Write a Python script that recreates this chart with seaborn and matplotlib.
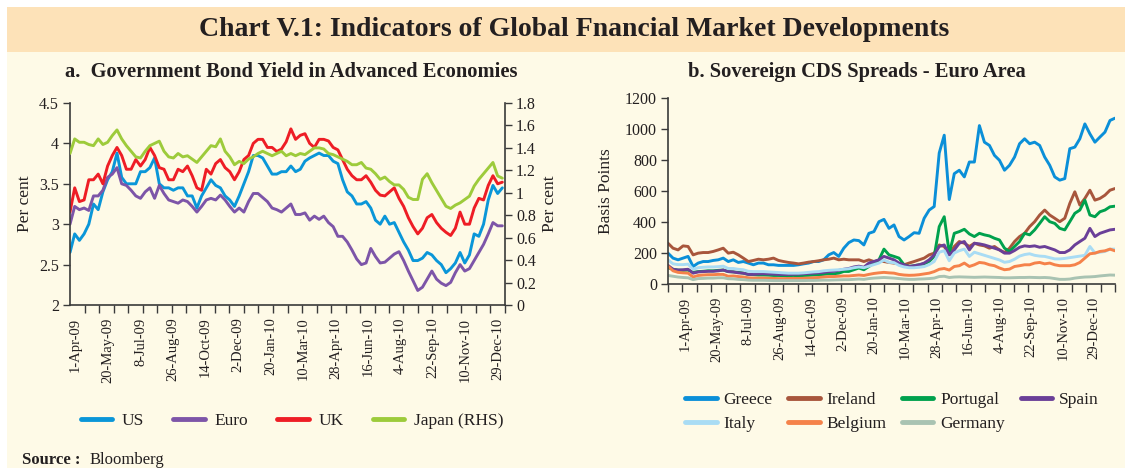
import numpy as np
import pandas as pd
import matplotlib
matplotlib.use("Agg")
import matplotlib.pyplot as plt
import matplotlib.dates as mdates
import matplotlib.transforms as mtransforms
from matplotlib.patches import Rectangle
from matplotlib.lines import Line2D
import seaborn as sns

# ------------------------------------------------------------------ data
# Panel a: government bond yields (weekly readings)
left_start, left_end = "2009-04-01", "2011-01-13"
us = [2.65, 2.88, 2.80, 2.88, 3.00, 3.25, 3.18, 3.40, 3.55, 3.65,
      3.88, 3.58, 3.50, 3.50, 3.50, 3.65, 3.65, 3.70, 3.82, 3.50,
      3.45, 3.45, 3.42, 3.45, 3.45, 3.35, 3.35, 3.20, 3.35, 3.45,
      3.55, 3.48, 3.45, 3.35, 3.30, 3.22, 3.35, 3.50, 3.65, 3.85,
      3.85, 3.82, 3.72, 3.62, 3.62, 3.65, 3.65, 3.72, 3.65, 3.68,
      3.78, 3.82, 3.85, 3.88, 3.85, 3.85, 3.78, 3.75, 3.55, 3.40,
      3.35, 3.25, 3.25, 3.28, 3.20, 3.05, 3.00, 3.10, 3.00, 3.02,
      2.90, 2.78, 2.68, 2.55, 2.55, 2.58, 2.65, 2.62, 2.55, 2.50,
      2.40, 2.45, 2.52, 2.65, 2.52, 2.62, 2.88, 2.85, 3.00, 3.30,
      3.48, 3.38, 3.45]
euro = [3.00, 3.22, 3.18, 3.20, 3.17, 3.35, 3.35, 3.42, 3.58, 3.62,
        3.70, 3.50, 3.48, 3.42, 3.35, 3.32, 3.40, 3.45, 3.32, 3.48,
        3.38, 3.30, 3.28, 3.26, 3.30, 3.28, 3.22, 3.15, 3.22, 3.30,
        3.32, 3.30, 3.36, 3.30, 3.22, 3.15, 3.20, 3.15, 3.28, 3.38,
        3.38, 3.33, 3.28, 3.20, 3.18, 3.15, 3.20, 3.25, 3.12, 3.12,
        3.14, 3.05, 3.10, 3.06, 3.10, 3.02, 2.97, 2.85, 2.85, 2.78,
        2.68, 2.57, 2.50, 2.52, 2.70, 2.60, 2.52, 2.53, 2.58, 2.63,
        2.66, 2.55, 2.42, 2.30, 2.18, 2.22, 2.32, 2.42, 2.32, 2.27,
        2.24, 2.28, 2.40, 2.50, 2.42, 2.45, 2.55, 2.65, 2.75, 2.88,
        3.02, 2.98, 2.98]
uk = [3.15, 3.45, 3.28, 3.30, 3.55, 3.55, 3.62, 3.50, 3.72, 3.85,
      3.95, 3.85, 3.68, 3.68, 3.80, 3.72, 3.80, 3.95, 3.85, 3.70,
      3.68, 3.55, 3.55, 3.68, 3.65, 3.72, 3.60, 3.45, 3.42, 3.68,
      3.62, 3.75, 3.80, 3.70, 3.65, 3.55, 3.65, 3.80, 3.85, 4.00,
      4.05, 4.05, 3.95, 3.95, 3.90, 3.93, 4.02, 4.18, 4.05, 4.10,
      4.12, 4.00, 3.95, 4.05, 4.05, 4.03, 3.95, 3.92, 3.80, 3.68,
      3.60, 3.55, 3.55, 3.60, 3.52, 3.42, 3.36, 3.35, 3.40, 3.45,
      3.32, 3.22, 3.08, 2.97, 2.88, 2.95, 3.08, 3.12, 3.02, 2.95,
      2.90, 2.86, 2.95, 3.15, 3.00, 3.00, 3.20, 3.32, 3.30, 3.48,
      3.60, 3.50, 3.52]
japan_rhs = [1.35, 1.48, 1.45, 1.45, 1.43, 1.42, 1.48, 1.43, 1.45, 1.51,
             1.56, 1.48, 1.42, 1.37, 1.32, 1.31, 1.37, 1.42, 1.44, 1.46,
             1.37, 1.32, 1.31, 1.35, 1.32, 1.33, 1.30, 1.27, 1.32, 1.37,
             1.42, 1.41, 1.48, 1.37, 1.32, 1.25, 1.28, 1.26, 1.30, 1.32,
             1.35, 1.37, 1.35, 1.33, 1.35, 1.37, 1.33, 1.35, 1.33, 1.35,
             1.34, 1.37, 1.40, 1.40, 1.39, 1.35, 1.34, 1.32, 1.30, 1.28,
             1.25, 1.25, 1.27, 1.22, 1.21, 1.17, 1.12, 1.14, 1.10, 1.07,
             1.07, 1.03, 0.96, 0.94, 0.94, 1.12, 1.17, 1.09, 1.02, 0.95,
             0.88, 0.86, 0.89, 0.91, 0.94, 0.97, 1.06, 1.12, 1.17, 1.22,
             1.27, 1.15, 1.13]

# Panel b: sovereign CDS spreads (basis points)
right_start, right_end = "2009-03-14", "2011-02-08"
greece = [199, 167, 156, 167, 178, 113, 135, 145, 145, 152,
          156, 167, 145, 156, 139, 145, 135, 124, 135, 135,
          124, 124, 120, 120, 120, 120, 124, 130, 135, 145,
          145, 156, 188, 203, 178, 231, 267, 284, 280, 252,
          327, 338, 402, 417, 359, 381, 306, 284, 306, 331,
          327, 424, 477, 500, 845, 960, 545, 712, 734, 691,
          787, 787, 1022, 915, 894, 830, 798, 734, 766, 819,
          905, 937, 905, 915, 894, 819, 766, 691, 670, 680,
          873, 883, 937, 1033, 969, 915, 948, 980, 1055, 1070]
ireland = [263, 231, 220, 246, 242, 188, 199, 203, 203, 210,
           220, 231, 199, 205, 188, 167, 145, 152, 160, 156,
           160, 167, 152, 145, 139, 135, 130, 135, 141, 145,
           150, 156, 160, 167, 156, 160, 156, 156, 156, 145,
           156, 145, 152, 145, 139, 135, 130, 124, 135, 145,
           156, 167, 188, 199, 252, 242, 190, 242, 274, 263,
           242, 263, 252, 246, 231, 242, 220, 203, 231, 274,
           306, 327, 370, 402, 445, 477, 445, 424, 402, 424,
           520, 595, 509, 552, 605, 541, 552, 573, 605, 616]
portugal = [105, 95, 90, 88, 90, 75, 80, 82, 85, 85,
            88, 90, 80, 78, 75, 70, 62, 60, 58, 58,
            57, 55, 55, 54, 54, 55, 53, 55, 56, 58,
            60, 62, 66, 66, 70, 81, 81, 92, 103, 92,
            113, 135, 156, 225, 188, 178, 167, 124, 113, 118,
            124, 130, 145, 178, 370, 434, 199, 327, 338, 353,
            323, 306, 327, 317, 310, 295, 284, 231, 210, 242,
            274, 327, 317, 349, 391, 434, 402, 391, 359, 349,
            402, 456, 477, 541, 445, 434, 466, 477, 498, 502]
spain = [120, 95, 90, 92, 95, 70, 78, 80, 82, 82,
         85, 90, 80, 78, 72, 70, 62, 62, 65, 66,
         65, 64, 62, 62, 62, 63, 64, 66, 68, 70,
         72, 75, 80, 82, 88, 95, 100, 110, 115, 108,
         135, 145, 156, 178, 167, 156, 135, 124, 113, 118,
         124, 135, 156, 188, 242, 252, 188, 220, 263, 274,
         220, 263, 259, 252, 242, 231, 220, 199, 199, 216,
         237, 246, 242, 246, 237, 242, 231, 220, 203, 203,
         220, 252, 274, 295, 359, 306, 327, 338, 349, 353]
italy = [155, 130, 125, 125, 128, 95, 105, 108, 110, 110,
         112, 115, 100, 100, 95, 92, 82, 80, 80, 80,
         78, 76, 74, 72, 70, 70, 70, 72, 75, 78,
         80, 85, 88, 90, 92, 95, 98, 105, 110, 105,
         115, 125, 135, 155, 140, 138, 120, 110, 105, 105,
         108, 112, 125, 145, 205, 215, 150, 200, 215, 225,
         178, 205, 195, 185, 175, 165, 155, 140, 145, 160,
         180, 190, 195, 185, 180, 178, 170, 162, 162, 165,
         170, 175, 180, 185, 242, 200, 205, 210, 225, 225]
belgium = [115, 85, 75, 72, 70, 45, 55, 58, 60, 60,
           62, 62, 50, 52, 48, 45, 40, 38, 38, 38,
           37, 36, 35, 35, 36, 36, 36, 37, 38, 40,
           42, 45, 48, 48, 50, 52, 52, 55, 58, 55,
           62, 68, 72, 75, 72, 70, 62, 58, 56, 57,
           60, 65, 70, 80, 95, 100, 90, 113, 118, 135,
           113, 124, 139, 135, 124, 118, 103, 92, 96, 113,
           118, 124, 124, 135, 139, 130, 135, 124, 118, 118,
           118, 124, 139, 167, 195, 199, 210, 214, 225, 214]
germany = [55, 50, 45, 42, 40, 28, 35, 36, 38, 38,
           40, 40, 34, 33, 30, 28, 25, 24, 24, 24,
           23, 22, 22, 22, 22, 22, 22, 22, 23, 23,
           24, 25, 25, 26, 27, 28, 28, 30, 32, 30,
           35, 38, 40, 42, 40, 38, 35, 32, 30, 30,
           32, 33, 35, 38, 48, 50, 42, 45, 46, 45,
           44, 43, 44, 45, 44, 43, 42, 40, 40, 41,
           42, 42, 43, 42, 41, 42, 40, 35, 30, 30,
           32, 38, 42, 45, 46, 48, 52, 55, 58, 57]

x_tick_labels = ["1-Apr-09", "20-May-09", "8-Jul-09", "26-Aug-09", "14-Oct-09",
                 "2-Dec-09", "20-Jan-10", "10-Mar-10", "28-Apr-10", "16-Jun-10",
                 "4-Aug-10", "22-Sep-10", "10-Nov-10", "29-Dec-10"]
left_yticks = [2, 2.5, 3, 3.5, 4, 4.5]
left_ytick_labels = ["2", "2.5", "3", "3.5", "4", "4.5"]
rhs_yticks = [0, 0.2, 0.4, 0.6, 0.8, 1.0, 1.2, 1.4, 1.6, 1.8]
rhs_ytick_labels = ["0", "0.2", "0.4", "0.6", "0.8", "1", "1.2", "1.4", "1.6", "1.8"]
cds_yticks = [0, 200, 400, 600, 800, 1000, 1200]

# ------------------------------------------------------------------ style
sns.set_theme(style="ticks")
plt.rcParams["font.family"] = ["Liberation Serif", "DejaVu Serif"]
TXT = "#231f20"
AXC = "#3a3a3a"
CREAM = "#fefae7"
PEACH = "#fde2b8"

left_pal = {"US": "#0a96d8", "Euro": "#7d55a8", "UK": "#ee1d25", "Japan (RHS)": "#9dcb3b"}
right_pal = {"Greece": "#0b8fd8", "Ireland": "#a8563c", "Portugal": "#00a14d",
             "Spain": "#6a3f98", "Italy": "#a9dcf4", "Belgium": "#f5824a",
             "Germany": "#a9c3b2"}

fig = plt.figure(figsize=(11.25, 4.68), dpi=100)
fig.patch.set_facecolor("white")
W, H = 1125.0, 468.0
fig.add_artist(Rectangle((7 / W, 0), 1, (H - 52) / H, transform=fig.transFigure,
                         facecolor=CREAM, edgecolor="none", zorder=-10))
fig.add_artist(Rectangle((7 / W, (H - 52) / H), 1, 45 / H, transform=fig.transFigure,
                         facecolor=PEACH, edgecolor="none", zorder=-10))

fig.text(574 / W, (H - 29) / H, "Chart V.1: Indicators of Global Fnancial Market Developments",
         ha="center", va="center", fontsize=20, fontweight="bold", color=TXT)
fig.text(291 / W, (H - 72) / H, "a.  Government Bond Yield in Advanced Economies",
         ha="center", va="center", fontsize=14.8, fontweight="bold", color=TXT)
fig.text(857 / W, (H - 72) / H, "b. Sovereign CDS Spreads - Euro Area",
         ha="center", va="center", fontsize=14.8, fontweight="bold", color=TXT)
fig.text(22 / W, (H - 460) / H, "Source :", ha="left", va="center",
         fontsize=12, fontweight="bold", color=TXT)
fig.text(90 / W, (H - 460) / H, "Bloomberg", ha="left", va="center", fontsize=12, color=TXT)

ax1 = fig.add_axes([70 / W, (H - 305) / H, 435 / W, 202 / H])
ax2 = fig.add_axes([668 / W, (H - 284) / H, 447 / W, 186 / H])
ax1r = ax1.twinx()
for a in (ax1, ax1r, ax2):
    a.set_facecolor("none")

# ------------------------------------------------------------------ panel a
ldates = pd.date_range(left_start, left_end, periods=len(us))
df_a = pd.concat([
    pd.DataFrame({"date": ldates, "value": us, "series": "US"}),
    pd.DataFrame({"date": ldates, "value": euro, "series": "Euro"}),
    pd.DataFrame({"date": ldates, "value": uk, "series": "UK"}),
])
df_j = pd.DataFrame({"date": ldates, "value": japan_rhs, "series": "Japan (RHS)"})
sns.lineplot(data=df_a, x="date", y="value", hue="series", hue_order=["US", "Euro", "UK"],
             palette=left_pal, linewidth=2.1, estimator=None, legend=False, ax=ax1)
sns.lineplot(data=df_j, x="date", y="value", hue="series", palette=left_pal,
             linewidth=2.1, estimator=None, legend=False, ax=ax1r)

# ------------------------------------------------------------------ panel b
rdates = pd.date_range(right_start, right_end, periods=len(greece))
order_b = ["Greece", "Ireland", "Portugal", "Spain", "Italy", "Belgium", "Germany"]
vals_b = [greece, ireland, portugal, spain, italy, belgium, germany]
df_b = pd.concat([pd.DataFrame({"date": rdates, "value": v, "series": n})
                  for n, v in zip(order_b, vals_b)])
sns.lineplot(data=df_b, x="date", y="value", hue="series", hue_order=order_b,
             palette=right_pal, linewidth=2.1, estimator=None, legend=False, ax=ax2)

# ------------------------------------------------------------------ axes cosmetics
tick_dates = pd.to_datetime(x_tick_labels, format="%d-%b-%y")
offset = mtransforms.ScaledTranslation(4 / 72, 0, fig.dpi_scale_trans)


def style_xaxis(ax, start, end, nminor):
    ax.set_xlim(pd.Timestamp(start), pd.Timestamp(end))
    ax.set_xticks(tick_dates)
    ax.set_xticklabels(x_tick_labels, rotation=90, fontsize=10.5, color=TXT)
    lo, hi = mdates.date2num(pd.Timestamp(start)), mdates.date2num(pd.Timestamp(end))
    ax.set_xticks(np.linspace(lo, hi, nminor), minor=True)
    ax.tick_params(axis="x", which="major", length=0, pad=9)
    ax.tick_params(axis="x", which="minor", length=6, width=1, color=AXC, direction="out")
    for lab in ax.get_xticklabels():
        lab.set_transform(lab.get_transform() + offset)
    ax.set_xlabel("")


style_xaxis(ax1, left_start, "2011-01-17", 31)
style_xaxis(ax2, right_start, right_end, 32)
ax1r.set_xlim(ax1.get_xlim())

ax1.set_ylim(2, 4.5)
ax1.set_yticks(left_yticks)
ax1.set_yticklabels(left_ytick_labels)
ax1r.set_ylim(0, 1.8)
ax1r.set_yticks(rhs_yticks)
ax1r.set_yticklabels(rhs_ytick_labels)
ax2.set_ylim(0, 1200)
ax2.set_yticks(cds_yticks)
ax2.set_yticklabels([str(v) for v in cds_yticks])

for a in (ax1, ax1r, ax2):
    a.tick_params(axis="y", length=5, width=1, color=AXC, labelsize=11.5, labelcolor=TXT,
                  direction="out", pad=3)
    for s in a.spines.values():
        s.set_color(AXC)
        s.set_linewidth(1.2)
    a.spines["top"].set_visible(False)
ax2.spines["right"].set_visible(False)
ax1.spines["right"].set_visible(False)
ax1r.spines["left"].set_visible(False)
ax1r.spines["bottom"].set_visible(False)

ax1.set_ylabel("Per cent", fontsize=12.5, color=TXT)
ax1.yaxis.set_label_coords(-0.085, 0.5)
ax1r.set_ylabel("Per cent", fontsize=12.5, color=TXT, rotation=90)
ax1r.yaxis.set_label_coords(1.085, 0.5)
ax2.set_ylabel("Basis Points", fontsize=12.5, color=TXT)
ax2.yaxis.set_label_coords(-0.12, 0.5)

# ------------------------------------------------------------------ legends
h_a = [Line2D([], [], color=left_pal[k], lw=3.5, solid_capstyle="round")
       for k in ["US", "Euro", "UK", "Japan (RHS)"]]
fig.legend(h_a, ["US", "Euro", "UK", "Japan (RHS)"], loc="center",
           bbox_to_anchor=(292 / W, (H - 421) / H), ncol=4, frameon=False,
           fontsize=12.5, handlelength=1.8, handletextpad=0.55, columnspacing=1.7,
           labelcolor=TXT)

leg_order = ["Greece", "Italy", "Ireland", "Belgium", "Portugal", "Germany", "Spain"]
h_b = [Line2D([], [], color=right_pal[k], lw=3.5, solid_capstyle="round") for k in leg_order]
fig.legend(h_b, leg_order, loc="center", bbox_to_anchor=(892 / W, (H - 412) / H),
           ncol=4, frameon=False, fontsize=12.5, handlelength=1.8, handletextpad=0.4,
           columnspacing=0.9, labelspacing=0.5, labelcolor=TXT)

fig.savefig("out.png", dpi=100)
